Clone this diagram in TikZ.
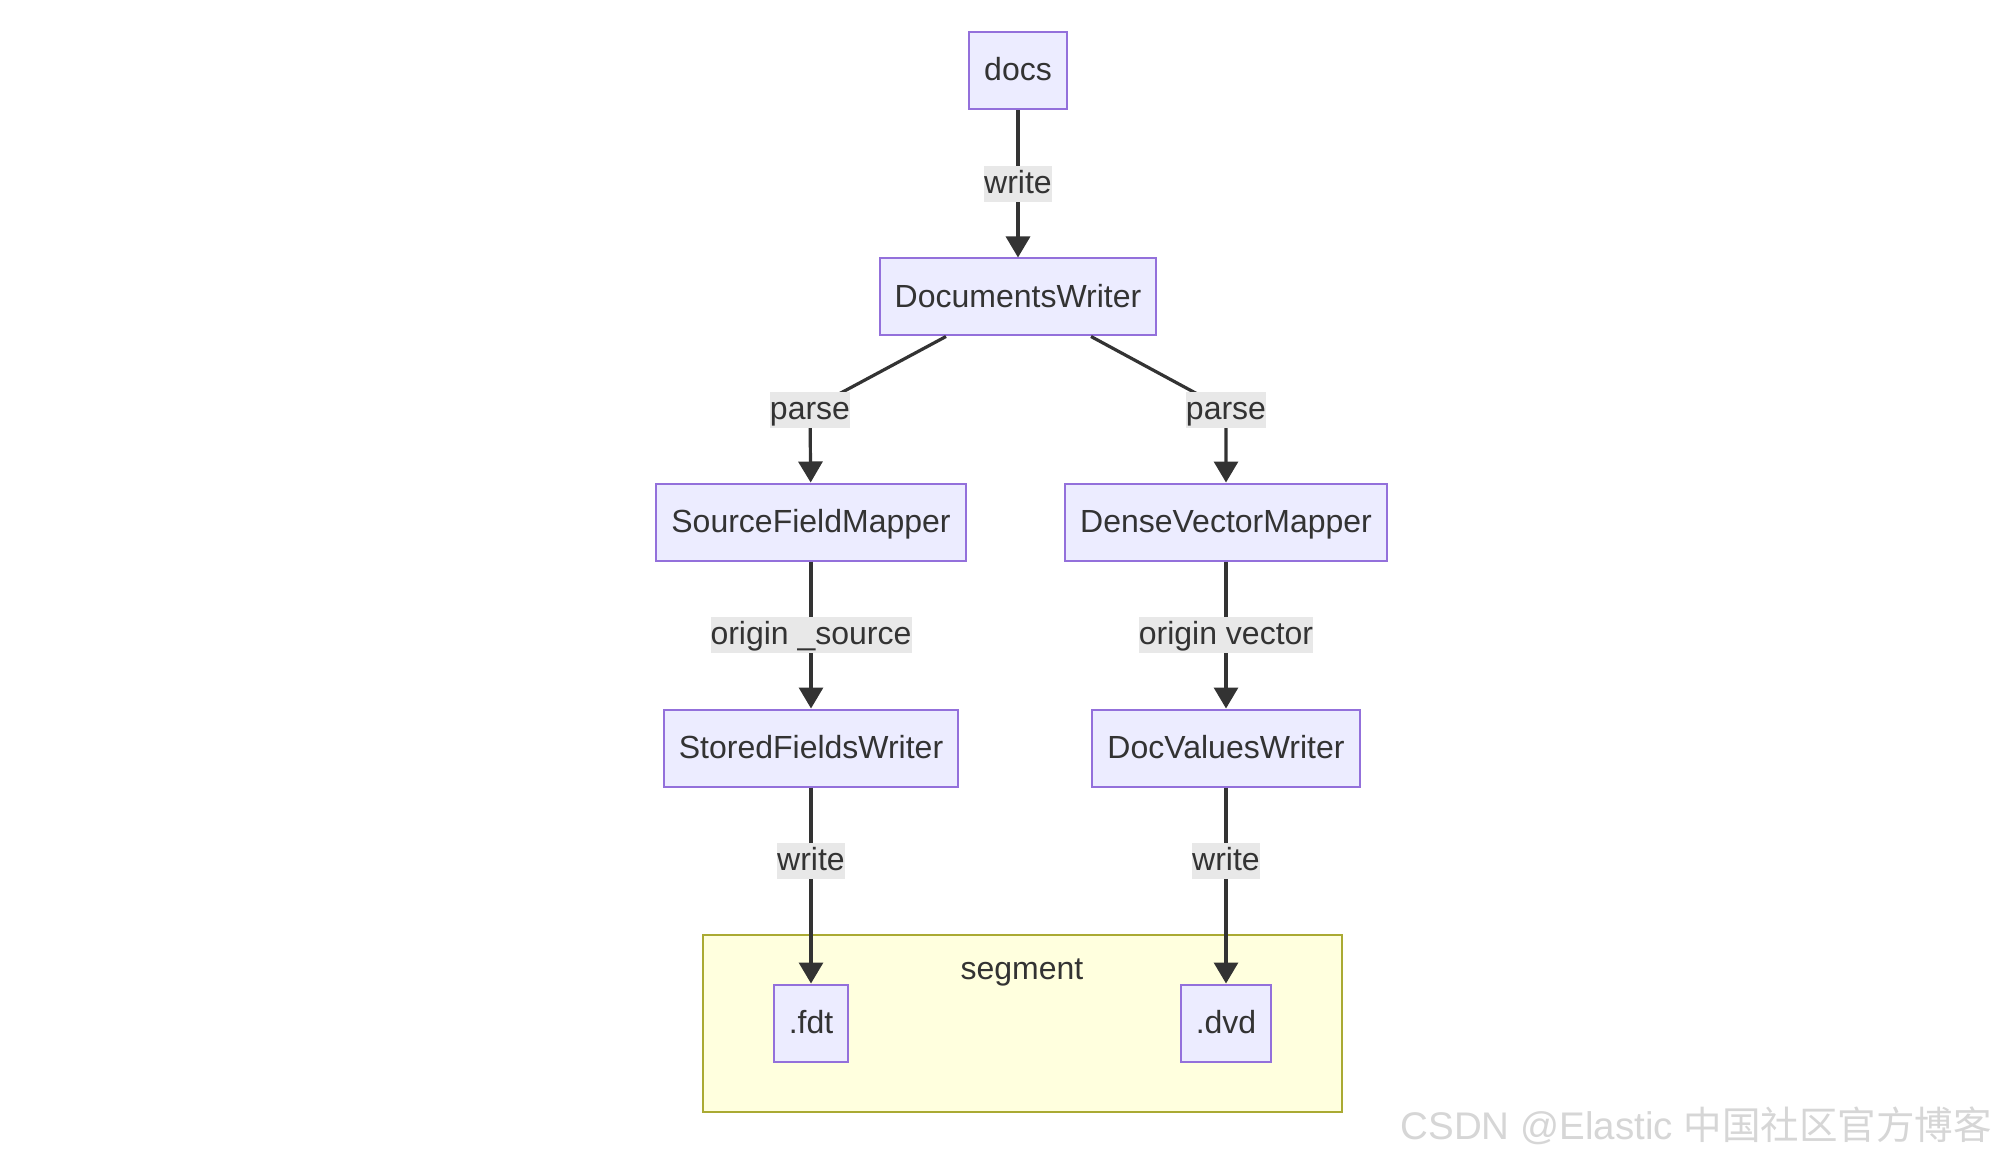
\documentclass[tikz,border=0pt]{standalone}
\usepackage{fontspec}
\setmainfont{Liberation Sans}
\newfontfamily\cjk{Noto Sans CJK SC}
\usetikzlibrary{arrows.meta}

\definecolor{boxfill}{HTML}{ECECFF}
\definecolor{boxline}{HTML}{9370DB}
\definecolor{edgeline}{HTML}{333333}
\definecolor{lblfill}{HTML}{E8E8E8}
\definecolor{segfill}{HTML}{FFFFDE}
\definecolor{segline}{HTML}{AAAA33}
\definecolor{marktext}{HTML}{D6D6D6}

\tikzset{
  box/.style={draw=boxline, fill=boxfill, line width=1pt, inner xsep=7.5pt,
    minimum height=38.5pt, text height=12.5pt, text depth=2.5pt, text=edgeline,
    font=\fontsize{16}{19}\selectfont},
  lbl/.style={fill=lblfill, inner xsep=0pt, inner ysep=1.25pt, text height=12.5pt,
    text depth=3pt, text=edgeline, font=\fontsize{16}{19}\selectfont},
  edge/.style={draw=edgeline, line width=1.6pt, -{Triangle[width=12pt,length=10.5pt]}},
  cluster/.style={draw=segline, fill=segfill, line width=1pt,
    minimum width=319.5pt, minimum height=88.5pt, inner sep=0pt},
  wmark/.style={text=marktext, font=\fontsize{19.25}{23}\selectfont, inner sep=0pt}
}

\begin{document}
\begin{tikzpicture}[x=0.5pt, y=-0.5pt]
    % Page and background
    \useasboundingbox (0, 0) rectangle (2000, 1160);
    \fill[white] (0, 0) rectangle (2000, 1160);

    % The segment group
    \node[cluster] (seg) at (1022.5, 1023.5) {};
    \node[text=edgeline, text height=12.5pt, text depth=2.5pt,
      font=\fontsize{16}{19}\selectfont] (seglbl) at (1022, 969) {segment};

    % Draw the boxes
    \node[box] (docs) at (1018, 71) {docs};
    \node[box] (dw) at (1018, 297) {DocumentsWriter};
    \node[box] (sfm) at (811, 522) {SourceFieldMapper};
    \node[box] (dvm) at (1226, 522) {DenseVectorMapper};
    \node[box] (sfw) at (811, 748) {StoredFieldsWriter};
    \node[box] (dvw) at (1226, 748) {DocValuesWriter};
    \node[box] (fdt) at (811, 1023) {.fdt};
    \node[box] (dvd) at (1226, 1023) {.dvd};

    % Arrows with their labels
    \draw[edge] (docs) -- node[lbl] (l1) {write} (dw);
    \draw[edge] ([xshift=-36pt]dw.south) -- (810, 409.5) node[lbl] (l2) {parse} -- (sfm);
    \draw[edge] ([xshift=36.5pt]dw.south) -- (1226, 409.5) node[lbl] (l3) {parse} -- (dvm);
    \draw[edge] (sfm) -- node[lbl] (l4) {origin \_source} (sfw);
    \draw[edge] (dvm) -- node[lbl] (l5) {origin vector} (dvw);
    \draw[edge] (sfw) -- node[lbl, pos=0.375] (l6) {write} (fdt);
    \draw[edge] (dvw) -- node[lbl, pos=0.375] (l7) {write} (dvd);

    % Watermark
    \node[wmark, anchor=east] (wm) at (1992, 1126) {CSDN @Elastic {\cjk 中国社区官方博客}};
\end{tikzpicture}
\end{document}
